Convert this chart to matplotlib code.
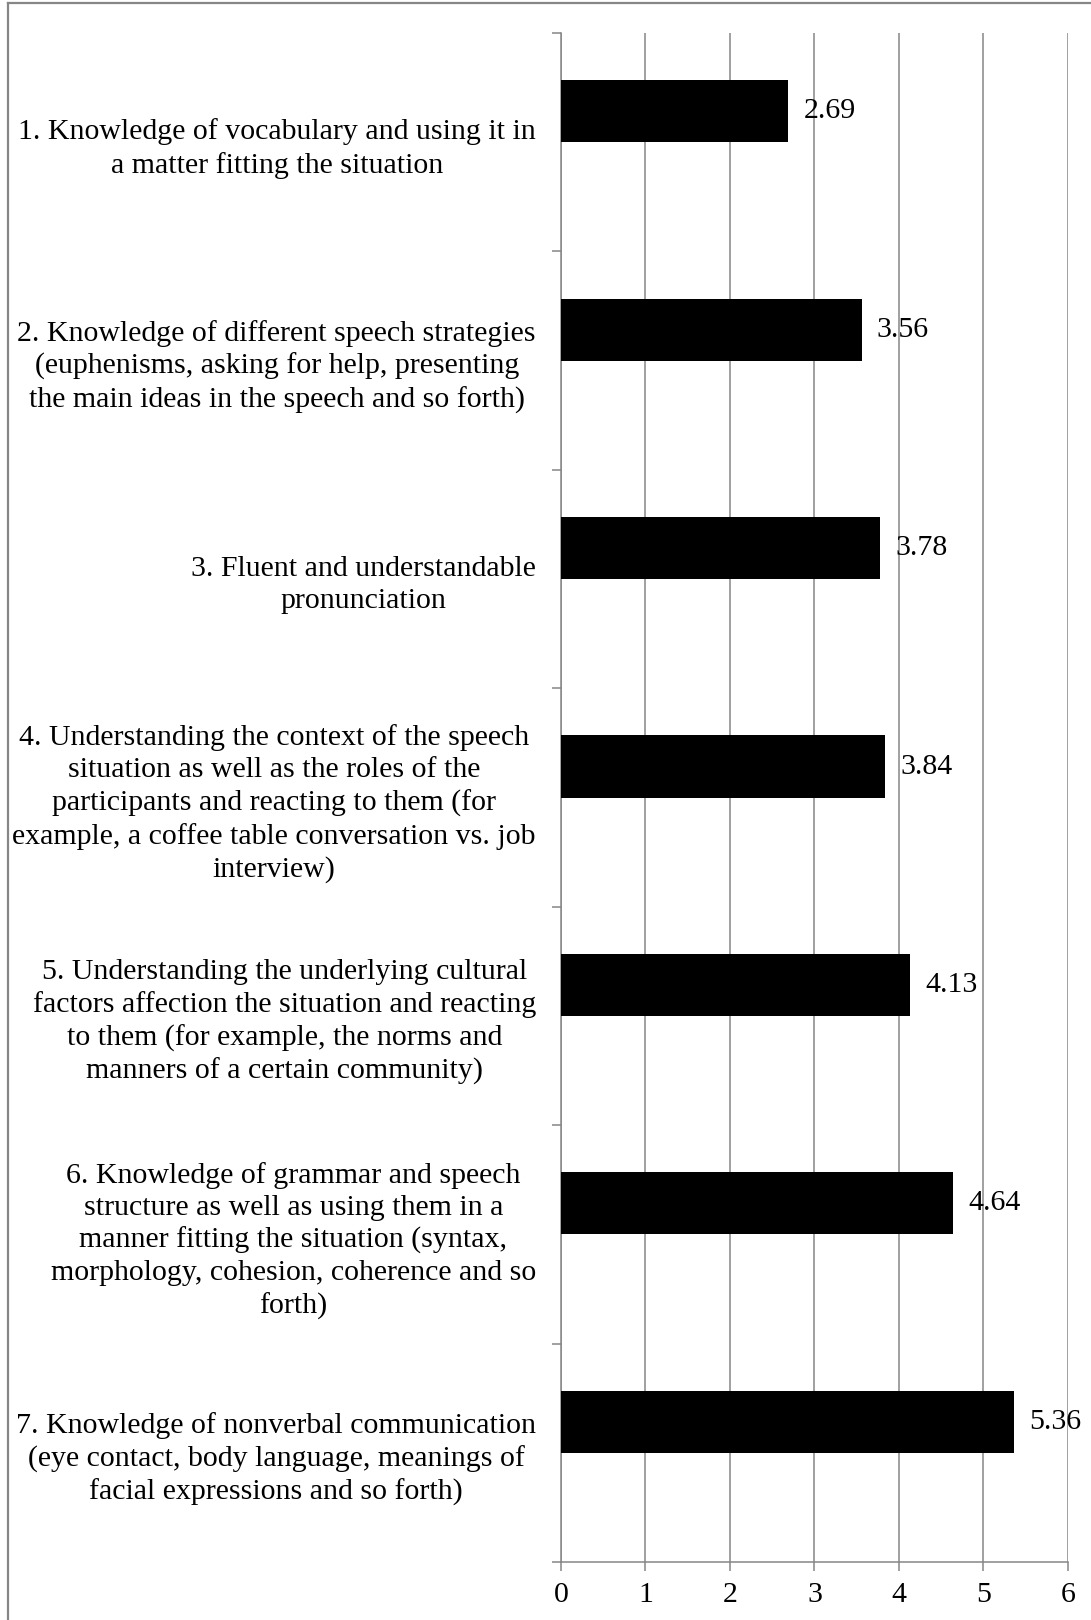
import matplotlib.pyplot as plt
import numpy as np
from matplotlib.lines import Line2D

plt.rcParams["font.family"] = ["Liberation Serif", "DejaVu Serif"]

labels = [
    "1. Knowledge of vocabulary and using it in\na matter fitting the situation",
    "2. Knowledge of different speech strategies\n(euphenisms, asking for help, presenting\nthe main ideas in the speech and so forth)",
    "3. Fluent and understandable\npronunciation",
    "4. Understanding the context of the speech\nsituation as well as the roles of the\nparticipants and reacting to them (for\nexample, a coffee table conversation vs. job\ninterview)",
    "5. Understanding the underlying cultural\nfactors affection the situation and reacting\nto them (for example, the norms and\nmanners of a certain community)",
    "6. Knowledge of grammar and speech\nstructure as well as using them in a\nmanner fitting the situation (syntax,\nmorphology, cohesion, coherence and so\nforth)",
    "7. Knowledge of nonverbal communication\n(eye contact, body language, meanings of\nfacial expressions and so forth)",
]
values = [2.69, 3.56, 3.78, 3.84, 4.13, 4.64, 5.36]
xticks = [0, 1, 2, 3, 4, 5, 6]

grey = "#868686"
fs = 21.5
bar_h = 0.284

fig = plt.figure(figsize=(10.91, 16.2), dpi=100)
ax = fig.add_axes([0.5142, 0.0358, 0.9789 - 0.5142, 0.9796 - 0.0358])

pos = np.arange(len(values))
# first series of a two-series cluster: bar sits just above the category centre
bars = ax.barh(pos - bar_h / 2, values, height=bar_h, color="black", zorder=3)

for b, v in zip(bars, values):
    ax.annotate(f"{v:.2f}", (v, b.get_y() + b.get_height() / 2),
                xytext=(10.8, 0), textcoords="offset points",
                ha="left", va="center", fontsize=fs, zorder=4)

ax.set_xlim(0, 6)
ax.set_ylim(len(values) - 0.5, -0.5)
ax.set_xticks(xticks)
ax.set_xticklabels([str(t) for t in xticks], fontsize=fs)
ax.grid(axis="x", color=grey, linewidth=1.1, zorder=0)

ax.set_yticks(pos)
ax.set_yticklabels(labels, fontsize=fs, multialignment="center", linespacing=1.3)
ax.set_yticks(np.arange(len(values) + 1) - 0.5, minor=True)
ax.tick_params(axis="y", which="major", length=0, pad=18)
ax.tick_params(axis="y", which="minor", length=6.5, color=grey, width=1.1)
ax.tick_params(axis="x", length=6.5, color=grey, width=1.1, pad=8)

for side in ["top", "right"]:
    ax.spines[side].set_visible(False)
for side in ["left", "bottom"]:
    ax.spines[side].set_color(grey)
    ax.spines[side].set_linewidth(1.1)

# frame around the figure, open at the right and bottom
fig.add_artist(Line2D([8 / 1091, 1], [1 - 3 / 1620, 1 - 3 / 1620],
                      color=grey, linewidth=1.6, transform=fig.transFigure))
fig.add_artist(Line2D([8 / 1091, 8 / 1091], [0, 1 - 3 / 1620],
                      color=grey, linewidth=1.6, transform=fig.transFigure))

fig.savefig("out.png", dpi=100)
